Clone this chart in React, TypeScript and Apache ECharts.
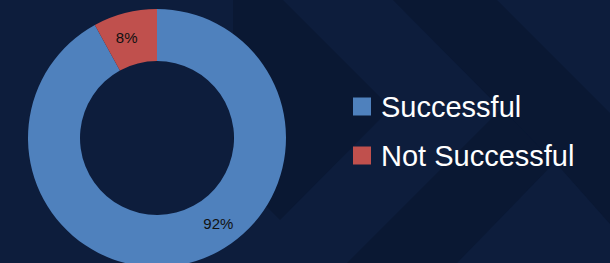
import React, { useEffect, useRef } from "react";
import * as echarts from "echarts";

const categories = ["Successful", "Not Successful"];
const values = [92, 8];
const sliceColors = ["#4f81bd", "#c0504d"];

// background chevron shapes (decorative)
const bgDark: number[][][] = [
  [[233, 0], [283, 0], [391, 108], [280, 220], [233, 173]],
  [[393, 0], [497, 0], [610, 113], [610, 224], [555, 162], [501, 109]],
  [[347, 263], [501, 109], [555, 162], [457, 263]],
];

export default function App() {
  const ref = useRef<HTMLDivElement>(null);
  useEffect(() => {
    document.body.style.margin = "0";
    const chart = echarts.init(ref.current!, undefined, { renderer: "svg" });
    const font = "'Liberation Sans', Arial, Helvetica, sans-serif";
    chart.setOption({
      animation: false,
      backgroundColor: "#0d1d3c",
      graphic: bgDark.map((pts) => ({
        type: "polygon",
        silent: true,
        z: -10,
        shape: { points: pts },
        style: { fill: "#0a1833" },
      })),
      legend: {
        orient: "vertical",
        left: 353,
        top: 92,
        padding: 0,
        itemWidth: 18,
        itemHeight: 18,
        itemGap: 20,
        itemTextGap: 10,
        icon: "rect",
        data: categories,
        textStyle: {
          color: "#ffffff",
          fontSize: 29,
          lineHeight: 28,
          fontFamily: font,
          padding: [0, 0, 0, 5],
        },
      },
      series: [
        {
          type: "pie",
          center: [157, 138],
          radius: [77, 129],
          startAngle: 90,
          clockwise: true,
          silent: true,
          data: categories.map((c, i) => ({
            name: c,
            value: values[i],
            itemStyle: { color: sliceColors[i] },
          })),
          label: {
            show: true,
            position: "inside",
            formatter: (p: any) => `${p.value}%`,
            color: "#111111",
            fontSize: 15,
            fontFamily: font,
          },
          labelLine: { show: false },
          labelLayout: (p: any) =>
            p.dataIndex === 0 ? { dx: 35, dy: -17 } : { dx: -4, dy: 2 },
        },
      ],
    });
    return () => chart.dispose();
  }, []);
  return <div ref={ref} style={{ width: 610, height: 263 }} />;
}
